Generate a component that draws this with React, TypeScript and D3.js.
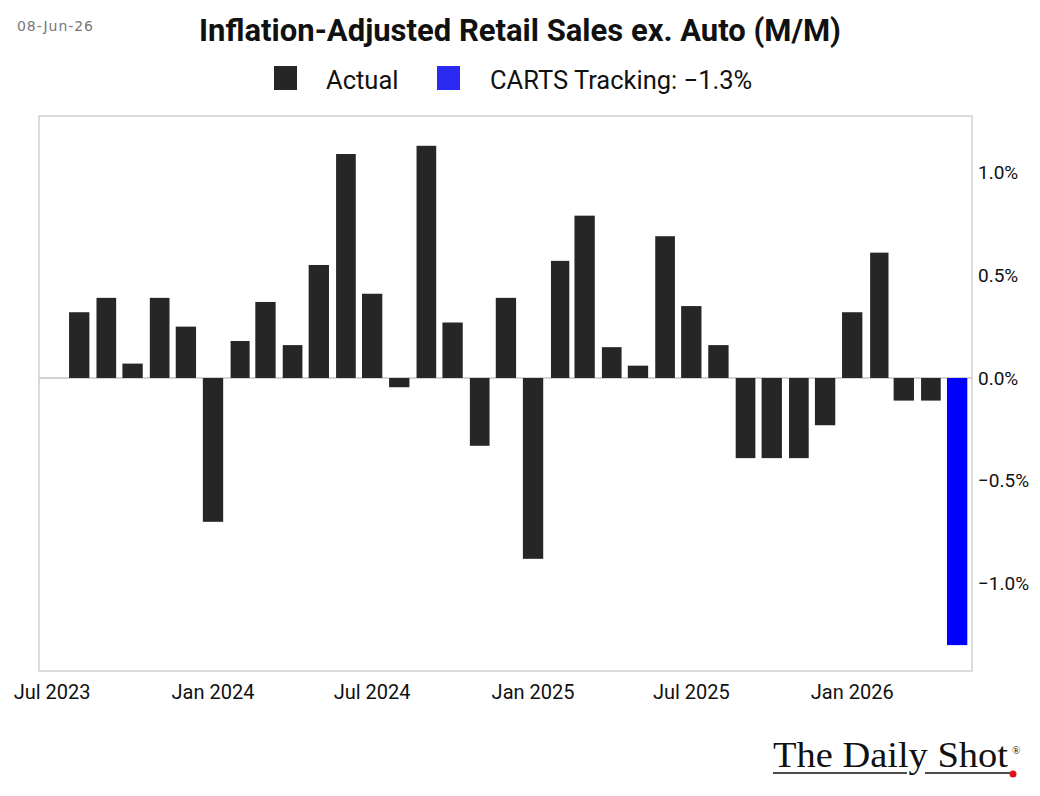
import React from "react";
import * as d3 from "d3";

const months: Date[] = d3.timeMonth.range(new Date(2023, 7, 1), new Date(2026, 5, 1));
const actualValues: number[] = [
  0.32, 0.39, 0.07, 0.39, 0.25, -0.7, 0.18, 0.37, 0.16, 0.55, 1.09, 0.41,
  -0.045, 1.13, 0.27, -0.33, 0.39, -0.88, 0.57, 0.79, 0.15, 0.06, 0.69, 0.35,
  0.16, -0.39, -0.39, -0.39, -0.23, 0.32, 0.61, -0.11, -0.11,
];
const trackingValue = -1.3;
const xTickDates: Date[] = [
  new Date(2023, 6, 1), new Date(2024, 0, 1), new Date(2024, 6, 1),
  new Date(2025, 0, 1), new Date(2025, 6, 1), new Date(2026, 0, 1),
];
const yTicks: number[] = [1.0, 0.5, 0.0, -0.5, -1.0];
const legendLabels = ["Actual", "CARTS Tracking: \u22121.3%"];

const W = 1040, H = 796;
const plot = { left: 39, right: 972, top: 116, bottom: 671 };
const FONT = "Roboto, 'Noto Sans', sans-serif";

export default function App() {
  const x = d3.scaleTime()
    .domain([new Date(2023, 5, 16), new Date(2026, 4, 18)])
    .range([plot.left, plot.right]);
  const y = d3.scaleLinear().domain([-1.426, 1.275]).range([plot.bottom, plot.top]);
  const fmt = (v: number) => (v < 0 ? "\u2212" : "") + Math.abs(v).toFixed(1) + "%";

  const bars = months.map((m, i) => {
    const next = d3.timeMonth.offset(m, 1);
    const w = (x(next) - x(m)) * 0.75;
    const isTracking = i === months.length - 1;
    const v = isTracking ? trackingValue : actualValues[i];
    return { m, v, w, isTracking };
  });

  return (
    <svg width={W} height={H} style={{ position: "absolute", left: 0, top: 0, background: "#fff" }}>
      <rect x={0} y={0} width={W} height={H} fill="#fff" />
      <text x={17} y={31} fontFamily="'DejaVu Sans', sans-serif" fontSize={14} fill="#777" textLength={76} lengthAdjust="spacing">08-Jun-26</text>
      <text x={W / 2} y={41} textAnchor="middle" fontFamily={FONT} fontWeight={700} fontSize={31} fill="#111">
        Inflation-Adjusted Retail Sales ex. Auto (M/M)
      </text>
      {/* legend */}
      <rect x={274} y={66} width={23} height={24} fill="#262626" />
      <text x={326} y={89} fontFamily={FONT} fontSize={25.5} fill="#111">{legendLabels[0]}</text>
      <rect x={437} y={66} width={23} height={24} fill="#2a2af2" />
      <text x={490} y={89} fontFamily={FONT} fontSize={25.5} fill="#111">{legendLabels[1]}</text>

      {/* zero line */}
      <line x1={plot.left} x2={plot.right} y1={y(0)} y2={y(0)} stroke="#c4c4c4" strokeWidth={1.5} />
      {bars.map((b, i) => (
        <rect key={i}
          x={x(b.m) - b.w / 2}
          y={Math.min(y(0), y(b.v))}
          width={b.w}
          height={Math.abs(y(b.v) - y(0))}
          fill={b.isTracking ? "#0000ff" : "#262626"} />
      ))}
      {/* frame */}
      <rect x={plot.left} y={plot.top} width={plot.right - plot.left} height={plot.bottom - plot.top}
        fill="none" stroke="#cfcfcf" strokeWidth={1.5} />
      {/* y ticks */}
      {yTicks.map((t) => (
        <text key={t} x={978} y={y(t)} dy="0.35em" fontFamily={FONT} fontSize={19} fill="#111">{fmt(t)}</text>
      ))}
      {/* x ticks */}
      {xTickDates.map((d, i) => (
        <text key={i} x={x(d)} y={699} textAnchor="middle" fontFamily={FONT} fontSize={20} fill="#111">
          {d3.timeFormat("%b %Y")(d)}
        </text>
      ))}
      {/* logo */}
      <text x={773} y={767} fontFamily="'Liberation Serif', serif" fontSize={36} fill="#111" textLength={235} lengthAdjust="spacingAndGlyphs">The Daily Shot</text>
      <text x={1012} y={754} fontFamily="'Liberation Serif', serif" fontSize={11} fill="#111">®</text>
      <line x1={773} x2={907} y1={773} y2={773} stroke="#111" strokeWidth={1.5} />
      <line x1={925} x2={1011} y1={773} y2={773} stroke="#111" strokeWidth={1.5} />
      <circle cx={1013} cy={774} r={3.5} fill="#e0101a" />
    </svg>
  );
}
